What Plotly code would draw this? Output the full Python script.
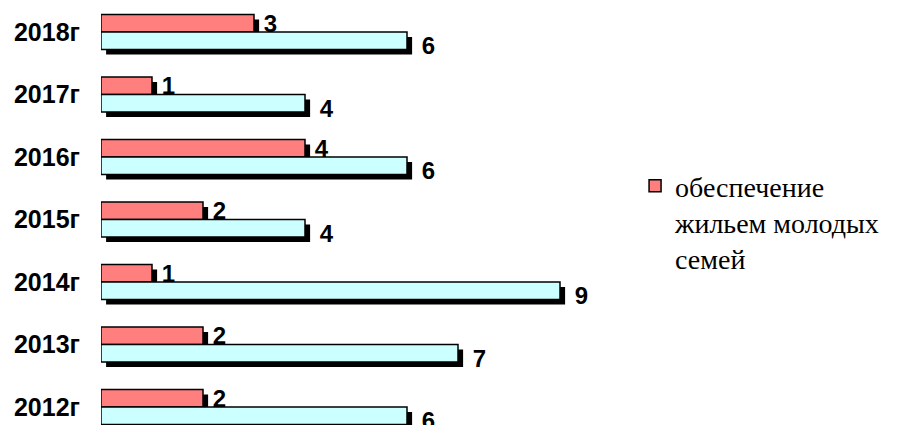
import plotly.graph_objects as go

years = ['2012г', '2013г', '2014г', '2015г', '2016г', '2017г', '2018г']
young_families = [2, 2, 1, 2, 4, 1, 3]
other_series = [6, 7, 9, 4, 6, 4, 6]
legend_name = 'обеспечение<br>жильем молодых<br>семей'

RED = '#FF7F7F'
CYAN = '#CCFFFF'
W = 0.28        # bar thickness (category units)
SH_X = 0.1      # shadow shift (value units)
SH_Y = 0.08     # shadow shift (category units)
VAL_FONT = dict(family='Liberation Sans', size=24, color='black', weight='bold')
LEG_FONT = dict(family='Liberation Serif', size=28, color='black')

fig = go.Figure()
# shadows
fig.add_trace(go.Bar(y=years, x=young_families, base=SH_X, orientation='h',
                     offset=0 - SH_Y, width=W, marker=dict(color='black', line=dict(width=0)),
                     showlegend=False, hoverinfo='skip'))
fig.add_trace(go.Bar(y=years, x=other_series, base=SH_X, orientation='h',
                     offset=-W - SH_Y, width=W, marker=dict(color='black', line=dict(width=0)),
                     text=other_series, texttemplate='\u00a0%{text}', textposition='outside',
                     textfont=VAL_FONT, constraintext='none', cliponaxis=False,
                     showlegend=False, hoverinfo='skip'))
# main bars
fig.add_trace(go.Bar(y=years, x=young_families, orientation='h', offset=0, width=W,
                     name=legend_name,
                     text=young_families, texttemplate='\u00a0%{text}', textposition='outside',
                     textfont=VAL_FONT, constraintext='none', cliponaxis=False,
                     marker=dict(color=RED, line=dict(color='black', width=1.5))))
fig.add_trace(go.Bar(y=years, x=other_series, orientation='h', offset=-W, width=W,
                     showlegend=False,
                     marker=dict(color=CYAN, line=dict(color='black', width=1.5))))

fig.update_layout(
    width=897, height=425,
    font=LEG_FONT,
    margin=dict(l=93, r=264, t=0, b=0),
    barmode='overlay',
    plot_bgcolor='white', paper_bgcolor='white',
    xaxis=dict(range=[0, 540 / 51], visible=False, showgrid=False, zeroline=False),
    yaxis=dict(type='category', range=[-0.416, 6.384], showgrid=False, zeroline=False,
               showline=False, ticks='', ticklabelstandoff=20, automargin=False,
               tickfont=dict(family='Liberation Sans', size=25, color='black', weight='bold')),
    legend=dict(x=0.989, xanchor='left', y=0.64, yanchor='top', valign='top',
                font=LEG_FONT, bgcolor='rgba(0,0,0,0)', itemwidth=30),
    showlegend=True,
)

fig.write_html('out.html')
